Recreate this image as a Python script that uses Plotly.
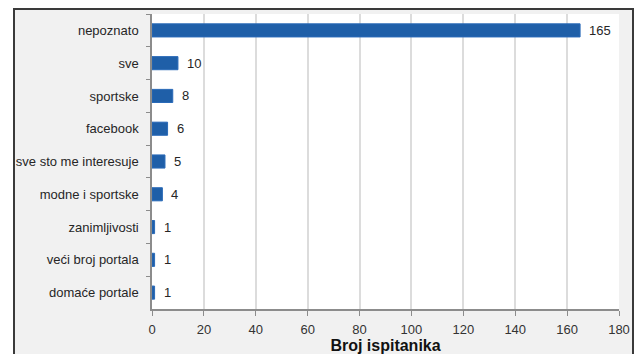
import plotly.graph_objects as go

# Survey answers (top to bottom) and respondent counts
categories = [
    "nepoznato",
    "sve",
    "sportske",
    "facebook",
    "sve sto me interesuje",
    "modne i sportske",
    "zanimljivosti",
    "veći broj portala",
    "domaće portale",
]
counts = [165, 10, 8, 6, 5, 4, 1, 1, 1]
x_ticks = [0, 20, 40, 60, 80, 100, 120, 140, 160, 180]
x_title = "Broj ispitanika"

W, H = 636, 354
L, R, T, B = 152, 17, 14, 45
pw, ph = W - L - R, H - T - B


def px_x(p):
    return (p - L) / pw


def px_y(p):
    return (H - B - p) / ph


BAR = "#1f5fa8"
FONT = "Liberation Sans, Arial, sans-serif"

fig = go.Figure()
fig.add_trace(go.Bar(
    x=counts,
    y=categories,
    orientation="h",
    marker=dict(color=BAR, line=dict(color="#2a6ab8", width=1)),
    width=0.4,
    hoverinfo="x+y",
))

# value labels just right of each bar
for c, v in zip(categories, counts):
    fig.add_annotation(
        x=v, y=c, text=str(v), showarrow=False,
        xanchor="left", xshift=7, yshift=0,
        font=dict(family=FONT, size=13, color="#262626"),
    )

shapes = [
    # light grey chart panel with dark frame
    dict(type="rect", xref="paper", yref="paper", layer="below",
         x0=px_x(14), x1=px_x(633), y0=px_y(9), y1=px_y(380),
         fillcolor="#f1f1f1", line=dict(color="#3a3a3a", width=2)),
    # white plotting area
    dict(type="rect", xref="paper", yref="paper", layer="below",
         x0=0, x1=1, y0=0, y1=1,
         fillcolor="#ffffff", line=dict(width=0)),
]

fig.update_layout(
    width=W, height=H,
    margin=dict(l=L, r=R, t=T, b=B, pad=0, autoexpand=False),
    paper_bgcolor="#ffffff",
    plot_bgcolor="rgba(0,0,0,0)",
    showlegend=False,
    shapes=shapes,
    font=dict(family=FONT, size=13, color="#333333"),
    bargap=0.6,
)

fig.update_xaxes(
    range=[0, 180], automargin=False,
    tickmode="array", tickvals=x_ticks, ticktext=[str(t) for t in x_ticks],
    showgrid=True, gridcolor="#dcdcdc", gridwidth=1.5,
    zeroline=False,
    showline=True, linecolor="#8c8c8c", linewidth=1.5,
    ticks="outside", ticklen=5, tickcolor="#8c8c8c",
    ticklabelstandoff=3,
    tickfont=dict(family=FONT, size=13, color="#333333"),
    title=dict(text="<b>" + x_title + "</b>", standoff=5,
               font=dict(family=FONT, size=16, color="#111111")),
)

fig.update_yaxes(
    categoryorder="array", categoryarray=categories,
    autorange="reversed", automargin=False,
    showgrid=False, zeroline=False,
    showline=True, linecolor="#8c8c8c", linewidth=1.5,
    ticks="outside", ticklen=4, tickcolor="#8c8c8c",
    tickson="boundaries",
    ticklabelstandoff=9,
    tickfont=dict(family=FONT, size=13, color="#262626"),
)

fig.write_html("out.html")
